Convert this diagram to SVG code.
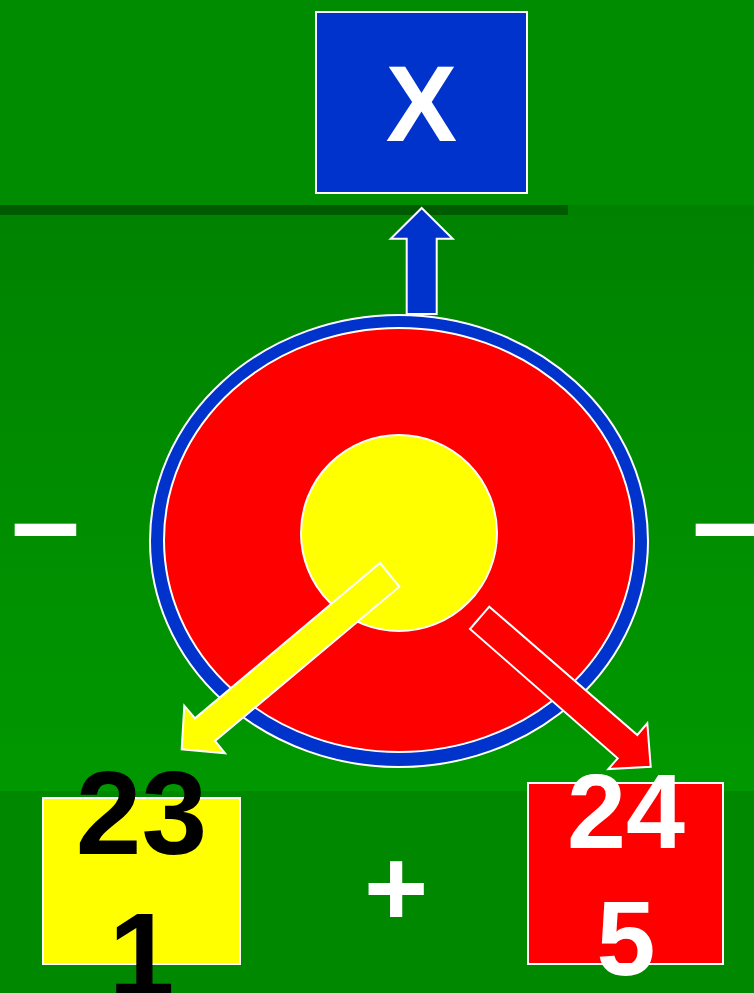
<svg xmlns="http://www.w3.org/2000/svg" width="754" height="993" viewBox="0 0 754 993">
<defs>
<linearGradient id="mid" x1="0" y1="0" x2="0" y2="1">
<stop offset="0" stop-color="#008200"/>
<stop offset="1" stop-color="#009800"/>
</linearGradient>
</defs>
<style>
.w{stroke:#FFFFFF;stroke-width:2}
.t{font-family:"Liberation Sans",Arial,sans-serif;font-weight:bold;text-anchor:middle}
</style>
<rect x="0" y="0" width="754" height="205" fill="#008C00"/>
<rect x="0" y="205" width="754" height="586" fill="url(#mid)"/>
<rect x="0" y="791" width="754" height="202" fill="#008800"/>
<rect x="0" y="205" width="568" height="10" fill="#005A00"/>
<g id="minus-left"><text class="t" x="45.5" y="563" font-size="124" fill="#FFFFFF">–</text></g>
<g id="minus-right"><text class="t" x="726.5" y="563" font-size="124" fill="#FFFFFF">–</text></g>
<g id="x-box">
<rect class="w" x="316" y="12" width="211" height="181" fill="#0033CC"/>
<text class="t" x="421.5" y="141" font-size="107" fill="#FFFFFF">X</text>
</g>
<g id="target">
<ellipse class="w" cx="399" cy="541" rx="249" ry="226" fill="#0033CC"/>
<ellipse class="w" cx="399" cy="540" rx="235" ry="212" fill="#FF0000"/>
<circle class="w" cx="399" cy="533" r="98" fill="#FFFF00"/>
</g>
<g id="connectors">
<polygon class="w" points="421.7,208 452.7,238.7 436.7,238.7 436.7,314 406.7,314 406.7,238.7 390.7,238.7" fill="#0033CC"/>
<polygon class="w" points="380,563 399.3,586.7 215,741 225,753.3 181.7,749.3 184.3,705.7 195,718.3" fill="#FFFF00"/>
<polygon class="w" points="489.3,606.7 637.3,735 647.3,723.3 650.7,766.7 608.3,769 617.7,758.3 470,629" fill="#FF0000"/>
</g>
<g id="box-23-1">
<rect class="w" x="43" y="798" width="197" height="166" fill="#FFFF00"/>
<text class="t" font-size="118" fill="#000000"><tspan x="141.5" y="854">23</tspan><tspan x="141.5" y="996">1</tspan></text>
</g>
<g id="plus"><text class="t" x="396" y="926" font-size="110" fill="#FFFFFF">+</text></g>
<g id="box-24-5">
<rect class="w" x="528" y="783" width="195" height="181" fill="#FF0000"/>
<text class="t" font-size="106" fill="#FFFFFF"><tspan x="626" y="848">24</tspan><tspan x="626" y="975">5</tspan></text>
</g>
</svg>
